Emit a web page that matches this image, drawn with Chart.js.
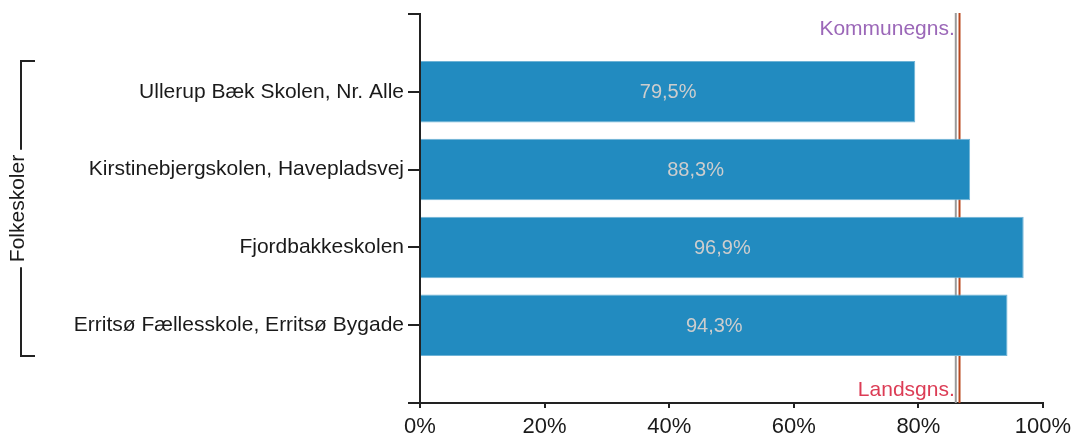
<!DOCTYPE html>
<html>
<head>
<meta charset="utf-8">
<script src="https://cdn.jsdelivr.net/npm/chart.js@4.4.1/dist/chart.umd.min.js"></script>
<style>
html,body{margin:0;padding:0;background:#fff;}
#wrap{width:1073px;height:443px;}
</style>
</head>
<body>
<div id="wrap"><canvas id="c" width="1073" height="443"></canvas></div>
<script>
// ---- data ----
const categories = ['', 'Ullerup Bæk Skolen, Nr. Alle', 'Kirstinebjergskolen, Havepladsvej', 'Fjordbakkeskolen', 'Erritsø Fællesskole, Erritsø Bygade', ''];
const values = [null, 79.5, 88.3, 96.9, 94.3, null];
const xTickValues = [0, 20, 40, 60, 80, 100];
const kommuneAvg = 86.0;
const landsAvg = 86.6;
const kommuneLabel = 'Kommunegns.';
const landsLabel = 'Landsgns.';
const groupLabel = 'Folkeskoler';

const FONT = "'Liberation Sans', Arial, sans-serif";

const fmt = v => v.toFixed(1).replace('.', ',') + '%';

const barLabels = {
  id: 'barLabels',
  afterDatasetsDraw(chart) {
    const ctx = chart.ctx;
    const meta = chart.getDatasetMeta(0);
    ctx.save();
    ctx.font = '20px ' + FONT;
    ctx.fillStyle = '#cdcdcd';
    ctx.textAlign = 'center';
    ctx.textBaseline = 'middle';
    meta.data.forEach((el, i) => {
      const v = values[i];
      if (v === null || v === undefined) return;
      const cx = (el.base + el.x) / 2;
      ctx.fillText(fmt(v), cx, el.y + 1);
    });
    ctx.restore();
  }
};

const refLines = {
  id: 'refLines',
  beforeDatasetsDraw(chart) {
    const ctx = chart.ctx;
    const xs = chart.scales.x;
    const area = chart.chartArea;
    const xk = xs.getPixelForValue(kommuneAvg);
    const xl = xs.getPixelForValue(landsAvg);
    ctx.save();
    ctx.lineWidth = 2;
    ctx.strokeStyle = '#9a9a9a';
    ctx.beginPath(); ctx.moveTo(xk, area.top - 1); ctx.lineTo(xk, area.bottom); ctx.stroke();
    ctx.strokeStyle = '#b9481f';
    ctx.beginPath(); ctx.moveTo(xl, area.top - 1); ctx.lineTo(xl, area.bottom); ctx.stroke();
    ctx.font = '21px ' + FONT;
    ctx.textAlign = 'right';
    ctx.textBaseline = 'middle';
    ctx.fillStyle = '#9b67b8';
    ctx.fillText(kommuneLabel, xk - 1, area.top + 15);
    ctx.fillStyle = '#dc3c55';
    ctx.fillText(landsLabel, xk - 1, area.bottom - 13);
    ctx.restore();
  }
};

const bracket = {
  id: 'bracket',
  afterDraw(chart) {
    const ctx = chart.ctx;
    const meta = chart.getDatasetMeta(0);
    const els = meta.data.filter((el, i) => values[i] !== null);
    const first = els[0], last = els[els.length - 1];
    const top = first.y - first.height / 2;
    const bottom = last.y + last.height / 2;
    const lx = 21, rx = 35;
    const mid = (top + bottom) / 2;
    ctx.save();
    ctx.font = '21px ' + FONT;
    const tw = ctx.measureText(groupLabel).width;
    ctx.strokeStyle = '#222';
    ctx.lineWidth = 2;
    ctx.beginPath();
    ctx.moveTo(rx, top); ctx.lineTo(lx, top); ctx.lineTo(lx, mid - tw / 2 - 5);
    ctx.moveTo(lx, mid + tw / 2 + 5); ctx.lineTo(lx, bottom); ctx.lineTo(rx, bottom);
    ctx.stroke();
    ctx.translate(lx - 3, mid);
    ctx.rotate(-Math.PI / 2);
    ctx.fillStyle = '#1a1a1a';
    ctx.textAlign = 'center';
    ctx.textBaseline = 'middle';
    ctx.fillText(groupLabel, 0, 0);
    ctx.restore();
  }
};

new Chart(document.getElementById('c'), {
  type: 'bar',
  data: {
    labels: categories,
    datasets: [{
      data: values,
      backgroundColor: '#228bc0',
      borderColor: '#6fb3d6',
      borderWidth: 1,
      categoryPercentage: 1,
      barPercentage: 0.79
    }]
  },
  options: {
    indexAxis: 'y',
    responsive: false,
    animation: false,
    devicePixelRatio: 1,
    layout: { padding: { left: 0, top: 14, right: 30, bottom: 0 } },
    plugins: { legend: { display: false }, tooltip: { enabled: false } },
    scales: {
      y: {
        type: 'category',
        offset: false,
        afterFit(s) { s.width = 420; s.paddingTop = 0; s.paddingBottom = 0; },
        grid: { display: true, offset: false, drawOnChartArea: false, drawTicks: true, tickLength: 12, color: '#222', lineWidth: 2 },
        border: { display: true, color: '#222', width: 2 },
        ticks: { font: { family: FONT, size: 21 }, color: '#1a1a1a', padding: 4, autoSkip: false }
      },
      x: {
        type: 'linear',
        min: 0, max: 100,
        afterFit(s) { s.height = 40; s.paddingLeft = 0; s.paddingRight = 0; },
        afterBuildTicks(s) { s.ticks = xTickValues.map(v => ({ value: v })); },
        grid: { display: true, drawOnChartArea: false, drawTicks: true, tickLength: 5, color: '#222', lineWidth: 2 },
        border: { display: true, color: '#222', width: 2 },
        ticks: { font: { family: FONT, size: 22 }, color: '#1a1a1a', padding: 6, maxRotation: 0, callback: v => v + '%' }
      }
    }
  },
  plugins: [barLabels, refLines, bracket]
});
</script>
</body>
</html>
